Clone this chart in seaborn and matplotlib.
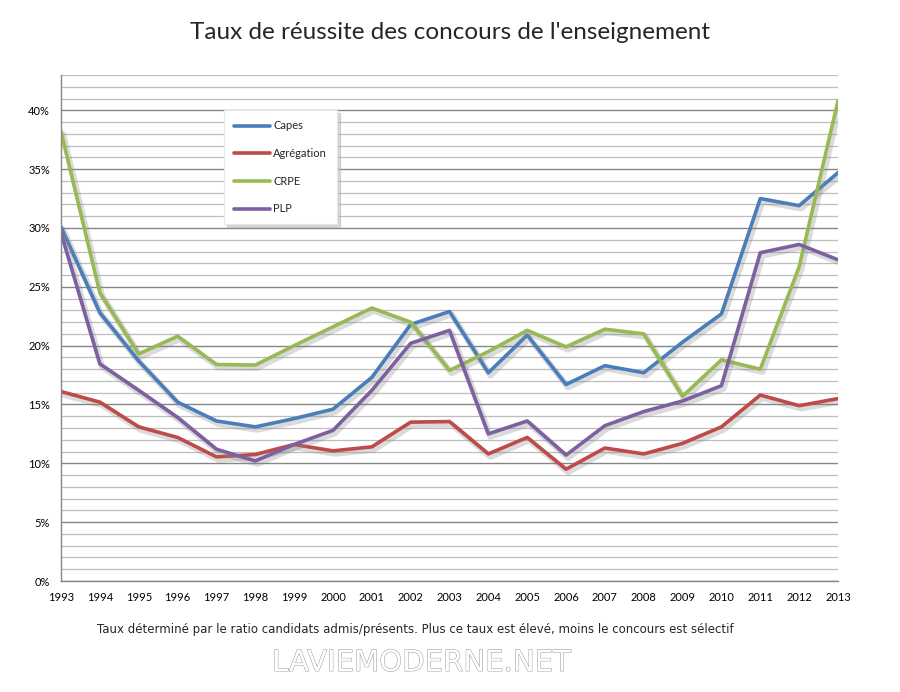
import numpy as np
import pandas as pd
import matplotlib
matplotlib.use("Agg")
import matplotlib.pyplot as plt
import matplotlib.patheffects as pe
from matplotlib.ticker import MultipleLocator, PercentFormatter
import seaborn as sns

# Données (taux de réussite en %)
annees = list(range(1993, 2014))
capes = [30.1, 22.8, 18.7, 15.2, 13.6, 13.1, 13.8, 14.6, 17.3, 21.8, 22.9,
         17.7, 20.9, 16.7, 18.3, 17.7, 20.3, 22.7, 32.5, 31.9, 34.7]
agregation = [16.1, 15.2, 13.1, 12.2, 10.55, 10.75, 11.6, 11.06, 11.4, 13.5, 13.55,
              10.8, 12.2, 9.5, 11.3, 10.8, 11.7, 13.1, 15.8, 14.9, 15.5]
crpe = [38.2, 24.5, 19.3, 20.8, 18.4, 18.35, 20.0, 21.6, 23.2, 22.0, 17.9,
        19.5, 21.3, 19.9, 21.4, 21.0, 15.7, 18.8, 18.0, 26.7, 40.8]
plp = [29.6, 18.45, 16.2, 13.9, 11.2, 10.2, 11.6, 12.8, 16.2, 20.2, 21.3,
       12.5, 13.6, 10.7, 13.2, 14.4, 15.3, 16.6, 27.9, 28.6, 27.3]
concours = ['Capes', 'Agrégation', 'CRPE', 'PLP']
couleurs = ['#4A7EBB', '#BE4B48', '#98B954', '#7D60A0']

df = pd.DataFrame({'Année': annees, 'Capes': capes, 'Agrégation': agregation,
                   'CRPE': crpe, 'PLP': plp})
long = df.melt(id_vars='Année', var_name='Concours', value_name='Taux')

sns.set_style('white')
plt.rcParams['font.family'] = ['Lato', 'DejaVu Sans']

fig = plt.figure(figsize=(9, 6.92), dpi=100)
ax = fig.add_axes([0.0678, 0.1604, 0.8633, 0.7312])

sns.lineplot(data=long, x='Année', y='Taux', hue='Concours', hue_order=concours,
             palette=couleurs, linewidth=2.6, ax=ax, legend=False)
for line in ax.get_lines():
    line.set_path_effects([pe.SimpleLineShadow(offset=(1.5, -2), shadow_color='#888888',
                                               alpha=0.3, linewidth=4.5),
                           pe.Normal()])

ax.set_xlim(1993, 2013)
ax.set_ylim(0, 43)
ax.set_xticks(annees)
ax.yaxis.set_major_locator(MultipleLocator(5))
ax.yaxis.set_minor_locator(MultipleLocator(1))
ax.yaxis.set_major_formatter(PercentFormatter(decimals=0))
ax.grid(which='major', axis='y', color='#868686', linewidth=1.0)
ax.grid(which='minor', axis='y', color='#BDBDBD', linewidth=0.9)
ax.grid(axis='x', visible=False)
ax.set_axisbelow(True)
for s in ['top', 'right']:
    ax.spines[s].set_visible(False)
for s in ['left', 'bottom']:
    ax.spines[s].set_color('#868686')
    ax.spines[s].set_linewidth(1.0)
ax.tick_params(axis='both', which='major', direction='out', length=5, width=1,
               color='#868686', labelsize=8, labelcolor='black', pad=3)
ax.tick_params(axis='y', which='minor', length=0)
ax.set_xlabel('')
ax.set_ylabel('')

handles = [plt.Line2D([], [], color=c, linewidth=2.6) for c in couleurs]
leg = ax.legend(handles, concours, loc='upper left', bbox_to_anchor=(0.21, 0.93),
                frameon=True, fancybox=False,
                shadow={'color': '#BBBBBB', 'alpha': 0.6, 'ox': 2, 'oy': -2},
                labelspacing=1.5, handlelength=3.2, handletextpad=0.3,
                borderpad=0.9, fontsize=8, borderaxespad=0)
leg.get_frame().set_edgecolor('#E6E6E6')
leg.get_frame().set_linewidth(0.8)
leg.get_frame().set_facecolor('white')

fig.text(0.5, 0.953, "Taux de réussite des concours de l'enseignement",
         ha='center', va='center', fontsize=17.5)
fig.text(0.108, 0.091,
         'Taux déterminé par le ratio candidats admis/présents. Plus ce taux est élevé, '
         'moins le concours est sélectif',
         ha='left', va='center', fontsize=8.5, family=['Liberation Sans Narrow', 'DejaVu Sans'])
fig.text(0.468, 0.042, 'LAVIEMODERNE.NET', ha='center', va='center', fontsize=21,
         color='white', family=['Liberation Sans Narrow', 'DejaVu Sans'],
         path_effects=[pe.withStroke(linewidth=0.7, foreground='#9A9A9A')])

fig.savefig('out.png', dpi=100)
